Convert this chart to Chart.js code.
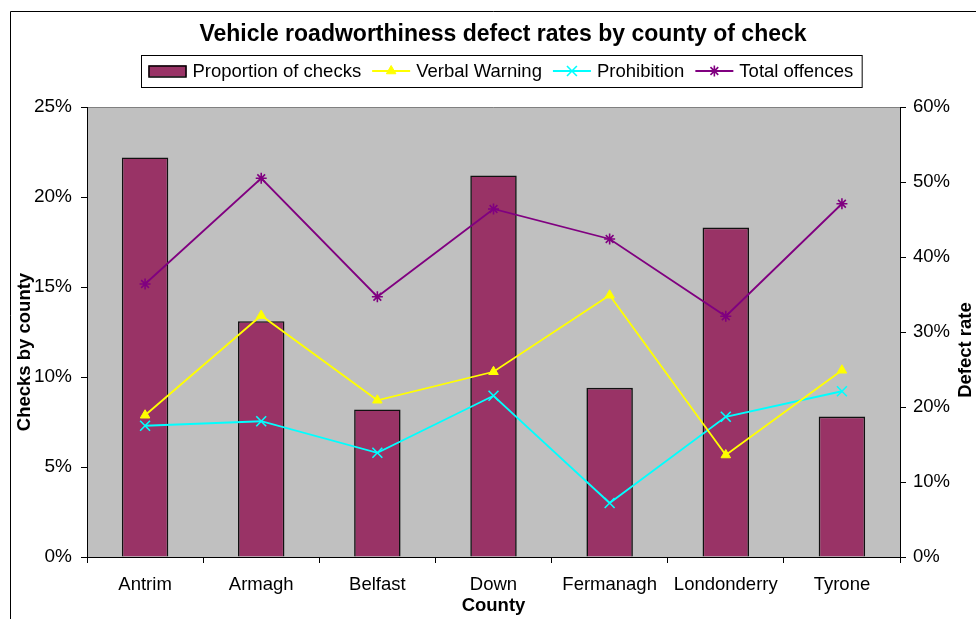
<!DOCTYPE html>
<html><head><meta charset="utf-8">
<script src="https://cdn.jsdelivr.net/npm/chart.js@4/dist/chart.umd.min.js"></script>
<style>html,body{margin:0;padding:0;background:#fff;overflow:hidden}#wrap{width:976px;height:619px;position:relative}</style>
</head><body><div id="wrap"><canvas id="c" width="976" height="619"></canvas></div>
<script>
// ---- data (percent) ----
const counties = ['Antrim','Armagh','Belfast','Down','Fermanagh','Londonderry','Tyrone'];
const proportionOfChecks = [22.2, 13.1, 8.2, 21.2, 9.4, 18.3, 7.8];
const verbalWarning      = [18.9, 32.2, 20.9, 24.7, 34.9, 13.6, 24.9];
const prohibition        = [17.5, 18.1, 13.9, 21.5, 7.2, 18.7, 22.1];
const totalOffences      = [36.4, 50.5, 34.7, 46.4, 42.4, 32.1, 47.1];
const seriesNames = ['Proportion of checks','Verbal Warning','Prohibition','Total offences'];
const chartTitle = 'Vehicle roadworthiness defect rates by county of check';
const xTitle = 'County';
const leftTitle = 'Checks by county';
const rightTitle = 'Defect rate';
const leftAxis = {min:0, max:25, step:5};
const rightAxis = {min:0, max:60, step:10};

const FAM = '"Liberation Sans", Arial, sans-serif';
const pct = v => v + '%';

const decor = {
  id: 'decor',
  beforeDraw(chart) {
    const {ctx, chartArea: a} = chart;
    ctx.save();
    ctx.fillStyle = '#fff';
    ctx.fillRect(0, 0, chart.width, chart.height);
    ctx.fillStyle = '#C0C0C0';
    ctx.fillRect(a.left, a.top, a.right - a.left, a.bottom - a.top);
    ctx.strokeStyle = '#808080';
    ctx.lineWidth = 1;
    ctx.beginPath();
    ctx.moveTo(a.left, a.top + 0.5); ctx.lineTo(a.right, a.top + 0.5);
    ctx.stroke();
    ctx.restore();
  },
  afterDraw(chart) {
    const {ctx, chartArea: a} = chart;
    ctx.save();
    // outer frame (cropped at right/bottom)
    ctx.strokeStyle = '#000'; ctx.lineWidth = 1;
    ctx.beginPath();
    ctx.moveTo(10.5, chart.height); ctx.lineTo(10.5, 11.5); ctx.lineTo(chart.width, 11.5);
    ctx.stroke();

    // axis titles
    ctx.fillStyle = '#000';
    ctx.font = 'bold 18.5px ' + FAM;
    ctx.textAlign = 'center'; ctx.textBaseline = 'middle';
    ctx.fillText(xTitle, (a.left + a.right) / 2, 606);
    const midY = (a.top + a.bottom) / 2;
    ctx.save(); ctx.translate(25, midY + 20); ctx.rotate(-Math.PI / 2);
    ctx.fillText(leftTitle, 0, 0); ctx.restore();
    ctx.save(); ctx.translate(966, midY + 18); ctx.rotate(-Math.PI / 2);
    ctx.fillText(rightTitle, 0, 0); ctx.restore();

    // legend
    const ds = chart.data.datasets;
    ctx.font = '18.5px ' + FAM;
    const sw = 38, gapT = 6, gapI = 11, padL = 7, padR = 9;
    const widths = ds.map(d => ctx.measureText(d.label).width);
    let total = padL + padR;
    widths.forEach((w, i) => { total += sw + gapT + w + (i ? gapI : 0); });
    const cx = (chart.titleBlock.left + chart.titleBlock.right) / 2 - 2;
    const bx = Math.round(cx - total / 2) + 0.5, by = 55.5, bh = 32;
    ctx.fillStyle = '#fff'; ctx.fillRect(bx, by, total, bh);
    ctx.strokeStyle = '#000'; ctx.strokeRect(bx, by, total, bh);
    const cy = 71;
    let x = bx + padL;
    ds.forEach((d, i) => {
      if (d.type === 'bar') {
        ctx.fillStyle = d.backgroundColor;
        ctx.fillRect(x, cy - 5.5, sw, 11);
        ctx.strokeStyle = '#000'; ctx.lineWidth = 1.5;
        ctx.strokeRect(x + 0.5, cy - 5, sw - 1, 11);
      } else {
        ctx.strokeStyle = d.borderColor; ctx.lineWidth = d.borderWidth;
        ctx.beginPath(); ctx.moveTo(x, cy); ctx.lineTo(x + sw, cy); ctx.stroke();
        ctx.fillStyle = d.pointBackgroundColor;
        ctx.strokeStyle = d.borderColor;
        ctx.lineWidth = d.pointBorderWidth;
        Chart.helpers.drawPoint(ctx, {pointStyle: d.pointStyle, radius: d.pointRadius, borderWidth: d.pointBorderWidth, rotation: 0}, x + sw / 2, cy);
      }
      ctx.fillStyle = '#000';
      ctx.textAlign = 'left'; ctx.textBaseline = 'middle';
      ctx.fillText(d.label, x + sw + gapT, cy + 1);
      x += sw + gapT + widths[i] + gapI;
    });
    ctx.restore();
  }
};

const tickFont = {family: FAM, size: 18.5};

new Chart(document.getElementById('c'), {
  type: 'bar',
  data: {
    labels: counties,
    datasets: [
      {type:'bar', label: seriesNames[0], data: proportionOfChecks, backgroundColor:'#993366',
       borderColor:'#111', borderWidth:1.6, yAxisID:'y', order:1, barPercentage:0.4, categoryPercentage:1},
      {type:'line', label: seriesNames[1], data: verbalWarning, borderColor:'#FFFF00', backgroundColor:'#FFFF00',
       pointBackgroundColor:'#FFFF00', pointBorderColor:'#FFFF00', borderWidth:1.8, pointStyle:'triangle',
       pointRadius:5.5, pointBorderWidth:1, yAxisID:'y1', tension:0, order:0},
      {type:'line', label: seriesNames[2], data: prohibition, borderColor:'#00FFFF', backgroundColor:'#00FFFF',
       pointBackgroundColor:'#00FFFF', pointBorderColor:'#00FFFF', borderWidth:1.8, pointStyle:'crossRot',
       pointRadius:7, pointBorderWidth:1.6, yAxisID:'y1', tension:0, order:0},
      {type:'line', label: seriesNames[3], data: totalOffences, borderColor:'#800080', backgroundColor:'#800080',
       pointBackgroundColor:'#800080', pointBorderColor:'#800080', borderWidth:1.8, pointStyle:'star',
       pointRadius:5.5, pointBorderWidth:1.6, yAxisID:'y1', tension:0, order:0}
    ]
  },
  options: {
    responsive: false,
    devicePixelRatio: 1,
    animation: false,
    layout: {padding: {left: 30, right: 0, top: 0, bottom: 0}},
    plugins: {
      legend: {display: false},
      tooltip: {enabled: false},
      title: {display: true, text: chartTitle, color:'#000',
              font: {family: FAM, size: 23, weight: 'bold'}, padding: {top: 21, bottom: 58.4}}
    },
    scales: {
      x: {
        offset: true,
        grid: {display: true, drawOnChartArea: false, drawTicks: true, tickLength: 6, color: '#000', offset: true},
        border: {display: true, color: '#000', width: 1},
        ticks: {color:'#000', font: tickFont, padding: 11, maxRotation: 0, autoSkip: false},
        afterFit(s) { s.height = 62; }
      },
      y: {
        position: 'left', min: leftAxis.min, max: leftAxis.max,
        grid: {drawOnChartArea: false, drawTicks: true, tickLength: 6, color: '#000'},
        border: {display: true, color: '#000', width: 1},
        ticks: {stepSize: leftAxis.step, callback: pct, color:'#000', font: {family: FAM, size: 19}, padding: 9},
        afterFit(s) { s.width = 57; }
      },
      y1: {
        position: 'right', min: rightAxis.min, max: rightAxis.max,
        grid: {drawOnChartArea: false, drawTicks: true, tickLength: 6, color: '#000'},
        border: {display: true, color: '#000', width: 1},
        ticks: {stepSize: rightAxis.step, callback: pct, color:'#000', font: tickFont, padding: 7},
        afterFit(s) { s.width = 76; }
      }
    }
  },
  plugins: [decor]
});
</script>
</body></html>
